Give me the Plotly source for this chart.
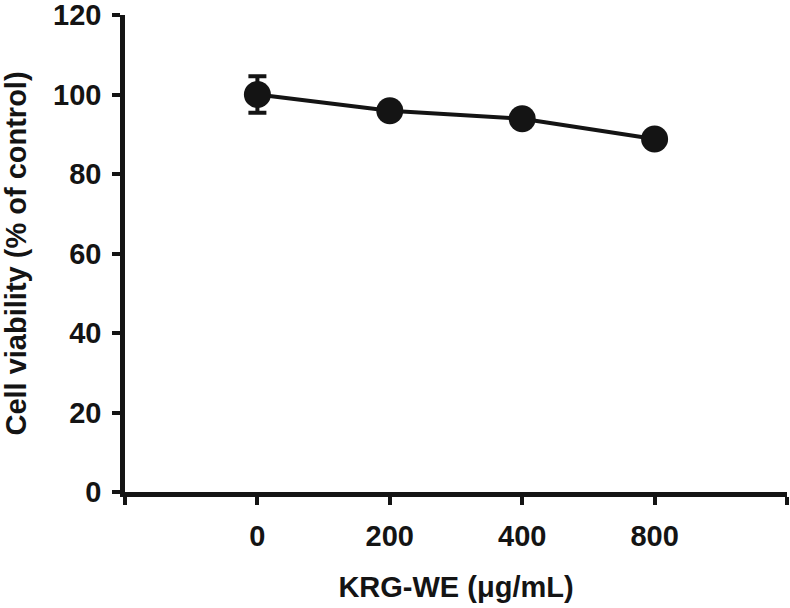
import plotly.graph_objects as go

categories = ["0", "200", "400", "800"]
viability = [100.0, 95.9, 93.9, 88.8]
errors = [4.6, 1.2, 1.2, 1.2]
y_ticks = [0, 20, 40, 60, 80, 100, 120]

x_pos = list(range(len(categories)))
FONT = "Liberation Sans, Arial, sans-serif"
INK = "#141414"
FS = 29

fig = go.Figure()
fig.add_trace(go.Scatter(
    x=x_pos, y=viability,
    mode="lines+markers",
    line=dict(color=INK, width=4),
    marker=dict(color=INK, size=27, symbol="circle"),
    error_y=dict(type="data", array=errors, visible=True,
                 color=INK, thickness=4, width=9),
    showlegend=False,
))

tickvals = [-1] + x_pos + [len(categories)]
ticktext = [""] + categories + [""]

fig.update_layout(
    width=790, height=608,
    margin=dict(l=125, r=3, t=15, b=116),
    paper_bgcolor="white", plot_bgcolor="white",
    font=dict(family=FONT, color=INK),
    xaxis=dict(
        automargin=False,
        range=[-1, len(categories)],
        tickvals=tickvals, ticktext=ticktext,
        showgrid=False, zeroline=False,
        showline=True, linecolor=INK, linewidth=4.5,
        ticks="outside", ticklen=8, tickwidth=3.5, tickcolor=INK,
        tickfont=dict(size=FS, family=FONT, weight="bold"),
        ticklabelstandoff=6, ticklabeloverflow="allow",
        title=dict(text="<b>KRG-WE (μg/mL)</b>", font=dict(size=FS, family=FONT), standoff=28),
    ),
    yaxis=dict(
        automargin=False,
        range=[0, 120],
        tickvals=y_ticks,
        showgrid=False, zeroline=False,
        showline=True, linecolor=INK, linewidth=4.5,
        ticks="outside", ticklen=8, tickwidth=3.5, tickcolor=INK,
        tickfont=dict(size=FS, family=FONT, weight="bold"),
        ticklabelstandoff=5, ticklabeloverflow="allow",
        title=dict(text="<b>Cell viability (% of control)</b>", font=dict(size=FS, family=FONT), standoff=28),
    ),
)

fig.write_html(
    "out.html",
    config={"displayModeBar": False},
    post_script="document.body.style.margin='0';document.body.style.overflow='hidden';",
)
